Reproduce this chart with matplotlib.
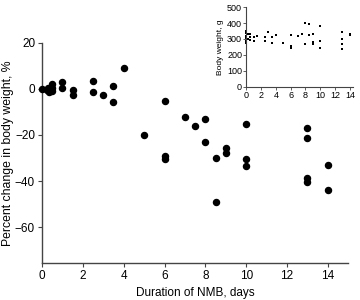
import numpy as np
import matplotlib.pyplot as plt

plt.rcParams['font.family'] = ['Liberation Sans', 'DejaVu Sans']

# main panel: percent change in body weight vs NMB duration
days = [0, 0.25, 0.3, 0.35, 0.4, 0.5, 0.5, 0.5, 1, 1, 1.5, 1.5, 2.5, 2.5, 3,
        3.5, 3.5, 4, 5, 6, 6, 6, 7, 7.5, 8, 8, 8.5, 8.5, 9, 9, 10, 10, 10,
        13, 13, 13, 13, 14, 14]
pct_change = [0, -0.5, 0.6, -1.5, -0.2, -1, 0.5, 2, 2.8, 0.2, -0.5, -2.5, 3.5,
              -1.2, -2.5, 1.4, -5.8, 9.3, -19.9, -5.2, -29.2, -30.5, -12, -16.1,
              -13, -23.2, -29.9, -49, -25.8, -28, -15.2, -30.3, -33.5, -16.8,
              -21.5, -38.5, -40.5, -33.2, -43.9]

# inset: absolute body weight
inset_days = [0, 0, 0, 0, 0, 0, 0.25, 0.25, 0.5, 0.5, 0.5, 1, 1, 1.5, 2.5, 2.5,
              3, 3.5, 3.5, 4, 5, 6, 6, 6, 7, 7.5, 8, 8, 8.5, 8.5, 9, 9, 9,
              10, 10, 10, 13, 13, 13, 13, 14, 14]
inset_weight = [275, 290, 305, 320, 335, 348, 300, 330, 295, 315, 330, 290, 310,
                320, 313, 288, 344, 311, 277, 328, 273, 326, 256, 246, 321, 334,
                399, 269, 393, 328, 332, 284, 271, 382, 290, 246, 342, 300, 269,
                240, 334, 328]

axis_col = '#444444'

fig = plt.figure(figsize=(3.6, 3.0), dpi=100)
ax = fig.add_axes([0.1167, 0.1243, 0.8508, 0.7327])
ax.scatter(days, pct_change, s=19, color='black', zorder=3, clip_on=False)
ax.set_xlim(0, 15)
ax.set_ylim(-75.5, 20)
ax.set_xticks(np.arange(0, 15, 2))
ax.set_yticks([-60, -40, -20, 0, 20])
ax.set_xlabel('Duration of NMB, days', fontsize=8.5, labelpad=4)
ax.set_ylabel('Percent change in body weight, %', fontsize=8.8, labelpad=1)
ax.tick_params(labelsize=8.5, length=3, width=0.8, color=axis_col, pad=2)
for side in ['top', 'right']:
    ax.spines[side].set_visible(False)
for side in ['left', 'bottom']:
    ax.spines[side].set_color(axis_col)
    ax.spines[side].set_linewidth(1)

ins = fig.add_axes([0.684, 0.711, 0.296, 0.265])
ins.scatter(inset_days, inset_weight, s=3, marker='s', color='black', lw=0, clip_on=False)
ins.set_xlim(0, 14.4)
ins.set_ylim(0, 500)
ins.set_xticks(np.arange(0, 15, 2))
ins.set_yticks(np.arange(0, 501, 100))
ins.set_ylabel('Body weight, g', fontsize=6, labelpad=2)
ins.tick_params(labelsize=6.5, length=2, width=0.6, color=axis_col, pad=1)
for side in ['top', 'right']:
    ins.spines[side].set_visible(False)
for side in ['left', 'bottom']:
    ins.spines[side].set_color(axis_col)
    ins.spines[side].set_linewidth(0.8)

fig.savefig('out.png', dpi=100)
